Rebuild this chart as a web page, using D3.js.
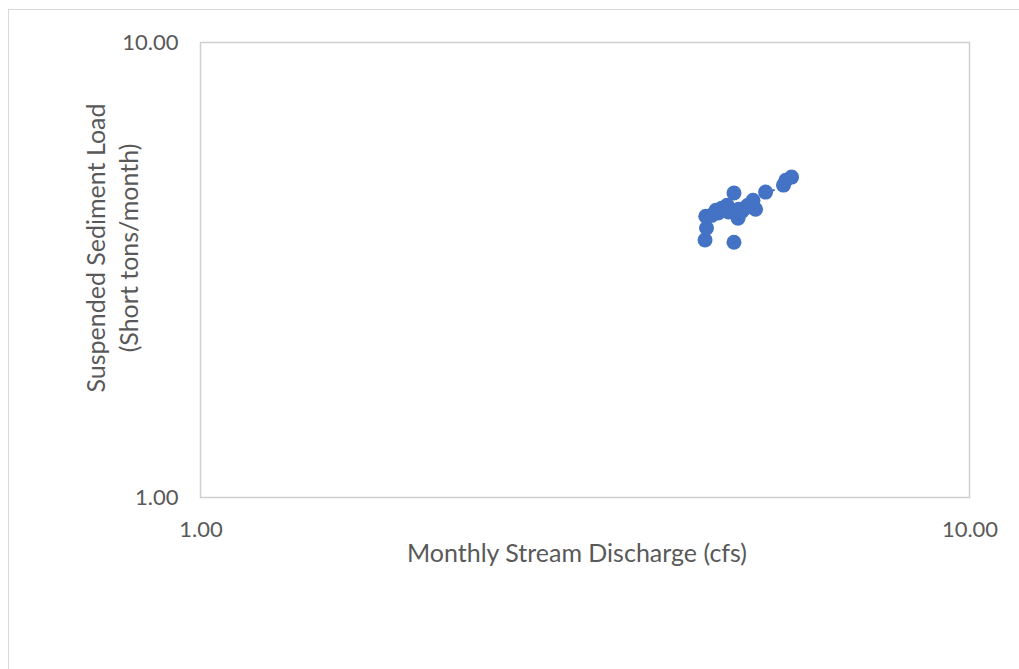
<!DOCTYPE html>
<html><head><meta charset="utf-8">
<script src="https://cdn.jsdelivr.net/npm/d3@7"></script>
<style>html,body{margin:0;padding:0;background:#fff;}svg{display:block;}</style>
</head><body>
<svg id="c" width="1019" height="669"></svg>
<script>
// Monthly stream discharge (cfs)
const discharge = [4.53, 4.94, 4.55, 4.54, 4.62, 4.71, 4.76, 4.84, 4.94, 5.00, 5.06, 5.15, 5.23, 5.27, 5.43, 5.73, 5.77, 5.87, 4.68, 4.88, 4.92, 4.86, 5.10, 5.01];
// Suspended sediment load (short tons/month)
const sediment  = [3.68, 3.64, 3.91, 4.15, 4.17, 4.22, 4.32, 4.39, 4.67, 4.11, 4.26, 4.39, 4.50, 4.30, 4.69, 4.86, 4.98, 5.06, 4.28, 4.28, 4.28, 4.24, 4.32, 4.30];
const xTicks = [1, 10];
const yTicks = [1, 10];
const xTitle = "Monthly Stream Discharge (cfs)";
const yTitle = ["Suspended Sediment Load", "(Short tons/month)"];

const svg = d3.select("#c");
const font = "Lato, 'Open Sans', sans-serif";
const L = 200.5, R = 969.5, T = 42.5, B = 497.5;

svg.append("rect").attr("x", 8.5).attr("y", 9.5).attr("width", 1030).attr("height", 700)
  .attr("fill", "#fff").attr("stroke", "#d9d9d9").attr("stroke-width", 1);

const x = d3.scaleLog().domain([1, 10]).range([L, R]);
const y = d3.scaleLog().domain([1, 10]).range([B, T]);

svg.append("rect").attr("x", L).attr("y", T).attr("width", R - L).attr("height", B - T)
  .attr("fill", "none").attr("stroke", "#d0d0d0").attr("stroke-width", 1.5);

const fmt = d3.format(".2f");
const xAxis = d3.axisBottom(x).tickValues(xTicks).tickFormat(fmt).tickSize(0).tickPadding(24);
const gx = svg.append("g").attr("transform", `translate(0,${B})`).call(xAxis);
const yAxis = d3.axisLeft(y).tickValues(yTicks).tickFormat(fmt).tickSize(0).tickPadding(22);
const gy = svg.append("g").attr("transform", `translate(${L},0)`).call(yAxis);
[gx, gy].forEach(g => {
  g.select(".domain").remove();
  g.selectAll("text").attr("fill", "#595959").style("font-family", font).style("font-size", "22px");
});

// linear trendline (dashed) from least squares on the data
const mx = d3.mean(discharge), my = d3.mean(sediment);
const sxy = d3.sum(discharge.map((d, i) => (d - mx) * (sediment[i] - my)));
const sxx = d3.sum(discharge.map(d => (d - mx) ** 2));
const slope = sxy / sxx, icpt = my - slope * mx;
const x0 = d3.min(discharge), x1 = d3.max(discharge);
svg.append("line")
  .attr("x1", x(x0)).attr("y1", y(icpt + slope * x0))
  .attr("x2", x(x1)).attr("y2", y(icpt + slope * x1))
  .attr("stroke", "#4472C4").attr("stroke-width", 2).attr("stroke-dasharray", "6,3");

svg.append("g").selectAll("circle").data(discharge).join("circle")
  .attr("cx", d => x(d)).attr("cy", (d, i) => y(sediment[i])).attr("r", 7.5)
  .attr("fill", "#4472C4");

svg.append("text").attr("x", 577).attr("y", 562).attr("text-anchor", "middle")
  .attr("fill", "#595959").style("font-family", font).style("font-size", "25px").text(xTitle);

const yt = svg.append("text").attr("transform", `translate(105,248) rotate(-90)`)
  .attr("text-anchor", "middle").attr("fill", "#595959").style("font-family", font).style("font-size", "25px");
yTitle.forEach((t, i) => yt.append("tspan").attr("x", 0).attr("dy", i === 0 ? 0 : 33).text(t));
</script>
</body></html>
